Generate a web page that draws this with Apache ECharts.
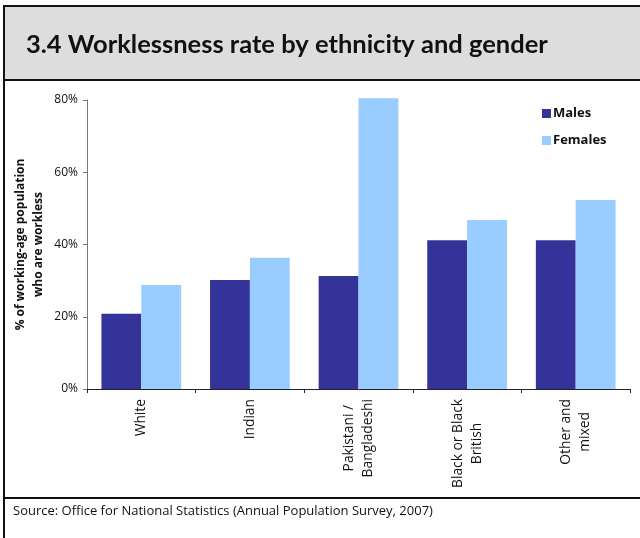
<!DOCTYPE html>
<html>
<head>
<meta charset="utf-8">
<script src="https://cdn.jsdelivr.net/npm/echarts@6/dist/echarts.min.js"></script>
<style>
html,body{margin:0;padding:0;background:#fff;}
#chart{width:640px;height:538px;}
</style>
</head>
<body>
<div id="chart"></div>
<script>
var categories = ['White', 'Indian', 'Pakistani /\nBangladeshi', 'Black or Black\nBritish', 'Other and\nmixed'];
var males = [20.8, 30.2, 31.3, 41.2, 41.2];
var females = [28.8, 36.3, 80.5, 46.8, 52.3];
var yTicks = [0, 20, 40, 60, 80];
var titleText = '3.4 Worklessness rate by ethnicity and gender';
var sourceText = 'Source: Office for National Statistics (Annual Population Survey, 2007)';
var yAxisTitle = '% of working-age population\nwho are workless';

var FONT = 'Open Sans';
var TFONT = 'Lato';
var chart = echarts.init(document.getElementById('chart'), null, {renderer: 'canvas'});
chart.setOption({
  animation: false,
  backgroundColor: '#ffffff',
  textStyle: {fontFamily: FONT},
  graphic: [
    {type: 'rect', shape: {x: 4, y: 5, width: 640, height: 75}, style: {fill: '#DDDDDD', stroke: null}, z: -10},
    {type: 'line', shape: {x1: 4, y1: 6, x2: 640, y2: 6}, style: {stroke: '#111', lineWidth: 2}},
    {type: 'line', shape: {x1: 4, y1: 80, x2: 640, y2: 80}, style: {stroke: '#111', lineWidth: 2}},
    {type: 'line', shape: {x1: 4, y1: 498, x2: 640, y2: 498}, style: {stroke: '#111', lineWidth: 2}},
    {type: 'line', shape: {x1: 4, y1: 5, x2: 4, y2: 538}, style: {stroke: '#111', lineWidth: 2}},
    {type: 'text', left: 13, top: 505, style: {text: sourceText, font: '13px "Open Sans"', fill: '#111'}}
  ],
  title: {
    text: titleText,
    left: 21, top: 27,
    textStyle: {fontFamily: TFONT, fontSize: 25.5, fontWeight: 'bold', color: '#111'}
  },
  legend: {
    orient: 'vertical',
    left: 537, top: 102,
    itemWidth: 9, itemHeight: 9, itemGap: 14,
    icon: 'rect',
    textStyle: {fontFamily: FONT, fontSize: 13, fontWeight: 'bold', color: '#111', padding: [0, 0, 0, -3]},
    data: ['Males', 'Females']
  },
  grid: {left: 87, right: 10, top: 100, bottom: 149, containLabel: false},
  xAxis: {
    type: 'category',
    data: categories,
    axisLine: {lineStyle: {color: '#222', width: 1}},
    axisTick: {show: true, length: 4, inside: false, lineStyle: {color: '#222'}},
    axisLabel: {
      rotate: 90, margin: 10, interval: 0,
      fontFamily: FONT, fontSize: 13.8, color: '#111',
      formatter: function (v) {
        return v.split('\n').map(function (l) { return '{c|' + l + '}'; }).join('\n');
      },
      rich: {c: {align: 'center', fontFamily: FONT, fontSize: 13.8, color: '#111', lineHeight: 19}}
    }
  },
  yAxis: {
    type: 'value',
    min: 0, max: 80, interval: 20,
    name: yAxisTitle,
    nameLocation: 'middle',
    nameGap: 39,
    nameMoveOverlap: false,
    nameRotate: 90,
    nameTextStyle: {fontFamily: FONT, fontSize: 12, fontWeight: 'bold', color: '#111', lineHeight: 18, align: 'center'},
    axisLine: {show: true, lineStyle: {color: '#777', width: 1}},
    axisTick: {show: true, length: 4, lineStyle: {color: '#777'}},
    splitLine: {show: false},
    axisLabel: {
      margin: 9, fontFamily: FONT, fontSize: 12, color: '#111',
      formatter: function (v) { return yTicks.indexOf(v) >= 0 ? v + '%' : ''; }
    }
  },
  series: [
    {name: 'Males', type: 'bar', data: males, clip: false, barGap: '0%', barCategoryGap: '26.6%', itemStyle: {color: '#333399'}},
    {name: 'Females', type: 'bar', data: females, clip: false, barGap: '0%', barCategoryGap: '26.6%', itemStyle: {color: '#99CCFF'}}
  ]
});
</script>
</body>
</html>
